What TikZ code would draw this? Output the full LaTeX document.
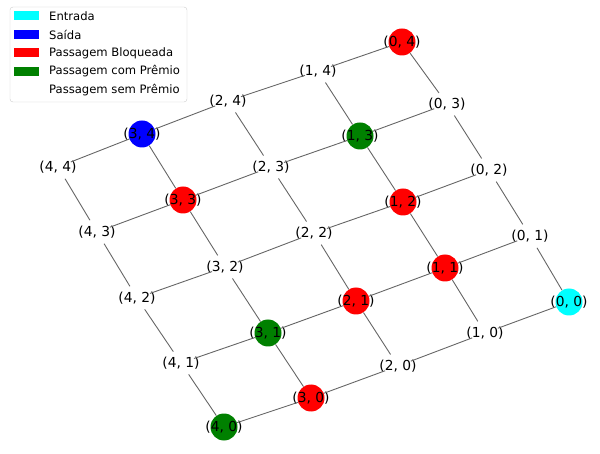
\documentclass[tikz,border=0pt]{standalone}
\usepackage{fontspec}
\setmainfont{DejaVu Sans}
\definecolor{mplgreen}{rgb}{0,0.5,0}
\definecolor{mplcyan}{rgb}{0,1,1}
\tikzset{
  cell/.style={circle, minimum size=27pt, inner sep=0pt, draw=none},
  every label/.style={font=\fontsize{13.8}{16}\selectfont, inner sep=0pt},
  link/.style={draw=black!60, line width=0.9pt},
  legtext/.style={anchor=west, font=\fontsize{11.6}{14}\selectfont, inner sep=0pt}
}
\begin{document}
\begin{tikzpicture}[x=1pt, y=-1pt]
    \useasboundingbox (0,0) rectangle (600,454);

    % grid cells
    \foreach \i/\j/\x/\y/\c in {
        0/0/569/302/mplcyan, 1/0/485/333/white, 2/0/398/366/white, 3/0/311/398/red, 4/0/224/427/mplgreen,
        0/1/530/236/white, 1/1/445/268/red, 2/1/356/301/red, 3/1/268/333/mplgreen, 4/1/181/363/white,
        0/2/489/170/white, 1/2/403/202/red, 2/2/314/233/white, 3/2/225/267/white, 4/2/137/298/white,
        0/3/447/104/white, 1/3/360/136/mplgreen, 2/3/271/167/white, 3/3/183/200/red, 4/3/97/232/white,
        0/4/402/42/red, 1/4/318/71/white, 2/4/228/101/white, 3/4/142/134/blue, 4/4/58/167/white}
        \node[cell, fill=\c, label={center:(\i, \j)}] (n\i\j) at (\x,\y) {};

    % grid edges
    \foreach \i in {0,...,4}
        \foreach \j in {0,...,3}{
            \pgfmathtruncatemacro{\k}{\j+1}
            \draw[link] (n\i\j) -- (n\i\k);
            \draw[link] (n\j\i) -- (n\k\i);
        }

    % legend
    \filldraw[draw=black!20, fill=white, rounded corners=3pt] (10,7) rectangle (187,102);
    \foreach \c/\t [count=\r] in {mplcyan/Entrada, blue/Saída, red/Passagem Bloqueada, mplgreen/Passagem com Prêmio, white/Passagem sem Prêmio}{
        \fill[\c] (14,{-2.5+18.5*\r-4.5}) rectangle (39,{-2.5+18.5*\r+4.5});
        \node[legtext] (leg\r) at (49,{-2.5+18.5*\r}) {\t};
    }
\end{tikzpicture}
\end{document}
